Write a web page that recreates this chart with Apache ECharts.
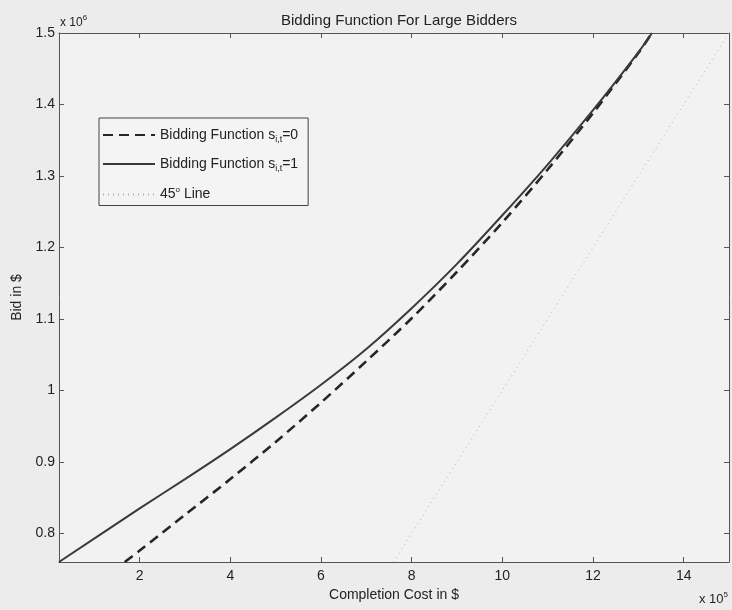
<!DOCTYPE html>
<html>
<head>
<meta charset="utf-8">
<script src="https://cdn.jsdelivr.net/npm/echarts@6/dist/echarts.min.js"></script>
<style>
html,body{margin:0;padding:0;background:#ececec;}
#chart{width:732px;height:610px;}
</style>
</head>
<body>
<div id="chart"></div>
<script>
// Data (x in units of 10^5 $, y in units of 10^6 $)
var costS0 = [1.67, 2, 3, 4, 5, 6, 7, 8, 9, 10, 11, 12, 13, 13.3];
var bidS0  = [0.76, 0.776, 0.826, 0.876, 0.928, 0.983, 1.041, 1.101, 1.166, 1.235, 1.309, 1.388, 1.472, 1.5];
var costS1 = [0.22, 2, 3, 4, 5, 6, 7, 8, 9, 10, 11, 12, 13, 13.3];
var bidS1  = [0.76, 0.835, 0.876, 0.918, 0.962, 1.008, 1.058, 1.115, 1.177, 1.245, 1.316, 1.392, 1.473, 1.5];
var cost45 = [7.6, 15];
var bid45  = [0.76, 1.5];
var xTicks = [2, 4, 6, 8, 10, 12, 14];
var yTicks = [0.8, 0.9, 1.0, 1.1, 1.2, 1.3, 1.4, 1.5];
var seriesNames = ['Bidding Function s_it=0', 'Bidding Function s_it=1', '45 Line'];
var legendLabels = ['Bidding Function s{sub|i,t}=0', 'Bidding Function s{sub|i,t}=1', '45{sup|o} Line'];

function pairs(xs, ys) { return xs.map(function (x, i) { return [x, ys[i]]; }); }

var FONT = '"Liberation Sans", Arial, Helvetica, sans-serif';
var AX = '#555';
var TXT = '#222';
var chart = echarts.init(document.getElementById('chart'), null, {renderer: 'canvas'});

function xAxisDef(pos, show) {
  return {
    type: 'value', position: pos, min: 0.22, max: 15,
    axisLine: {show: true, onZero: false, lineStyle: {color: AX, width: 1}},
    axisTick: {show: true, inside: true, length: 5, customValues: xTicks, lineStyle: {color: AX}},
    axisLabel: {show: show, customValues: xTicks, margin: 7, color: TXT, fontSize: 14, fontFamily: FONT},
    splitLine: {show: false},
    name: show ? 'Completion Cost in $' : '', nameLocation: 'middle', nameGap: 23,
    nameTextStyle: {color: TXT, fontSize: 14, fontFamily: FONT}
  };
}
function yAxisDef(pos, show) {
  return {
    type: 'value', position: pos, min: 0.76, max: 1.5,
    axisLine: {show: true, onZero: false, lineStyle: {color: AX, width: 1}},
    axisTick: {show: true, inside: true, length: 5, customValues: yTicks, lineStyle: {color: AX}},
    axisLabel: {show: show, customValues: yTicks, margin: 4, color: TXT, fontSize: 14, fontFamily: FONT,
      formatter: function (v) { return String(Number(v.toFixed(1))); }},
    splitLine: {show: false},
    name: show ? 'Bid in $' : '', nameLocation: 'middle', nameGap: 34,
    nameTextStyle: {color: TXT, fontSize: 14, fontFamily: FONT}
  };
}

var option = {
  backgroundColor: '#ececec',
  animation: false,
  title: {
    text: 'Bidding Function For Large Bidders', left: 394, top: 8, textAlign: 'center',
    textStyle: {color: TXT, fontSize: 15, fontWeight: 'normal', fontFamily: FONT}
  },
  grid: {left: 59, top: 33, right: 3, bottom: 48, show: true, backgroundColor: '#f2f2f2', borderWidth: 0},
  xAxis: [xAxisDef('bottom', true), xAxisDef('top', false)],
  yAxis: [yAxisDef('left', true), yAxisDef('right', false)],
  legend: {
    orient: 'vertical', left: 99, top: 118,
    itemWidth: 52, itemHeight: 14, itemGap: 13,
    padding: [10, 10, 4, 3],
    backgroundColor: '#f4f4f4', borderColor: '#444', borderWidth: 1, borderRadius: 0,
    itemStyle: {opacity: 0},
    data: seriesNames,
    formatter: function (name) { return legendLabels[seriesNames.indexOf(name)]; },
    textStyle: {
      color: TXT, fontSize: 14, fontFamily: FONT,
      rich: {
        sub: {fontSize: 9, fontFamily: FONT, color: TXT, padding: [9, 0, 0, 0]},
        sup: {fontSize: 8, fontFamily: FONT, color: TXT, padding: [0, 0, 9, 0]}
      }
    }
  },
  graphic: [
    {type: 'text', left: 60, top: 14, style: {text: 'x 10{sup|6}', fill: TXT, font: '12px ' + FONT,
      rich: {sup: {fontSize: 8, fontFamily: FONT, fill: TXT, padding: [0, 0, 9, 0]}}}},
    {type: 'text', right: 4, top: 591, style: {text: 'x 10{sup|5}', fill: TXT, font: '13px ' + FONT,
      rich: {sup: {fontSize: 8, fontFamily: FONT, fill: TXT, padding: [0, 0, 9, 0]}}}}
  ],
  series: [
    {name: seriesNames[0], type: 'line', data: pairs(costS0, bidS0), symbol: 'none', smooth: 0.3, clip: true,
      lineStyle: {color: '#262626', width: 2.6, type: [10, 6]}},
    {name: seriesNames[1], type: 'line', data: pairs(costS1, bidS1), symbol: 'none', smooth: 0.3, clip: true,
      lineStyle: {color: '#3a3a3a', width: 2, type: 'solid'}},
    {name: seriesNames[2], type: 'line', data: pairs(cost45, bid45), symbol: 'none', clip: true,
      lineStyle: {color: '#b0b0b0', width: 1, type: [1, 4]}}
  ]
};
chart.setOption(option);
</script>
</body>
</html>
